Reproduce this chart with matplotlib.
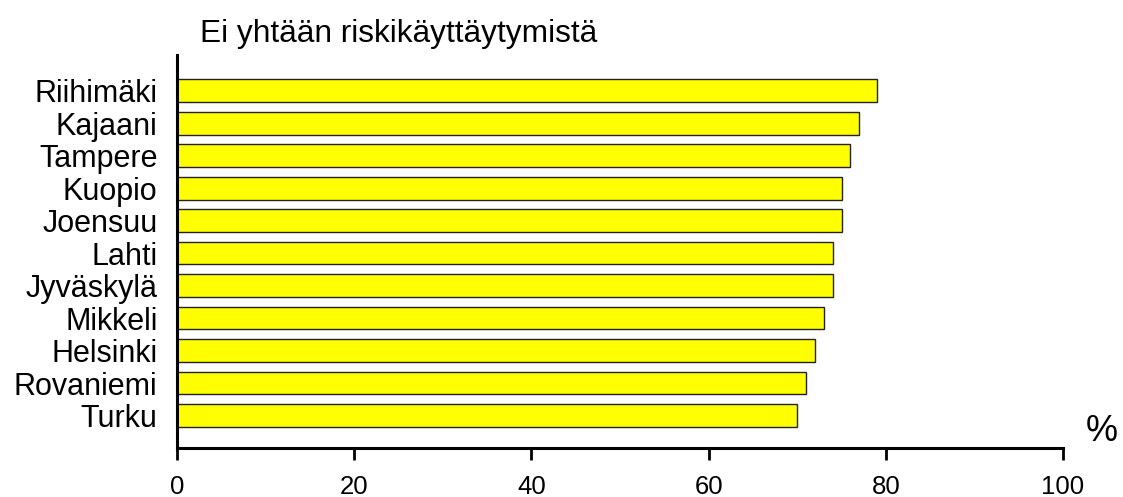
import matplotlib.pyplot as plt

plt.rcParams['font.family'] = ['Liberation Sans', 'DejaVu Sans']

# kaupungit alhaalta ylös
cities = ['Turku', 'Rovaniemi', 'Helsinki', 'Mikkeli', 'Jyväskylä', 'Lahti',
          'Joensuu', 'Kuopio', 'Tampere', 'Kajaani', 'Riihimäki']
values = [70, 71, 72, 73, 74, 74, 75, 75, 76, 77, 79]
xticks = [0, 20, 40, 60, 80, 100]

fig = plt.figure(figsize=(11.23, 4.97), dpi=100)
ax = fig.add_axes([0.1576, 0.0986, 0.789, 0.7907])

ax.barh(range(len(cities)), values, height=0.7, color='#ffff00',
        edgecolor='#222222', linewidth=1.0)

ax.set_xlim(0, 100)
ax.set_ylim(-1, 11.1)
ax.set_yticks(range(len(cities)))
ax.set_yticklabels(cities, fontsize=22)
ax.tick_params(axis='y', length=0, pad=14)
ax.set_xticks(xticks)
ax.set_xticklabels([str(t) for t in xticks], fontsize=18.5)
ax.tick_params(axis='x', length=8.5, width=2, pad=11, direction='out')

for s in ['top', 'right']:
    ax.spines[s].set_visible(False)
for s in ['left', 'bottom']:
    ax.spines[s].set_linewidth(2.2)

fig.text(0.178, 0.932, 'Ei yhtään riskikäyttäytymistä', fontsize=22.8,
         ha='left', va='center')
fig.text(0.995, 0.131, '%', fontsize=26, ha='right', va='center')

fig.savefig('out.png', dpi=100)
